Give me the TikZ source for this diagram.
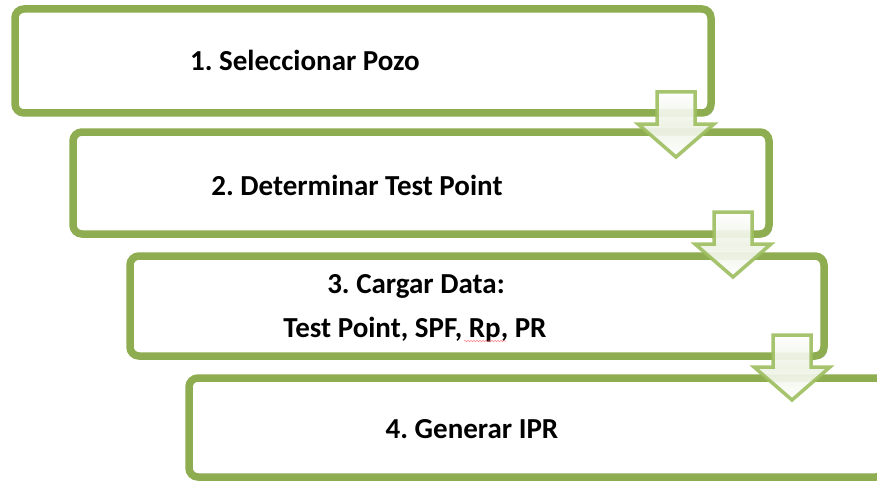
\documentclass[tikz,border=0pt]{standalone}
\usepackage{fontspec}
\setmainfont{Carlito}
\frenchspacing
\usetikzlibrary{shadows,decorations.pathmorphing}
\definecolor{boxgreen}{HTML}{8EAC50}
\definecolor{arrgreen}{HTML}{9DBE5F}
\definecolor{arrfill}{HTML}{EDF2E4}
\tikzset{
  stepbox/.style={draw=boxgreen, line width=7.5pt, fill=white, rounded corners=9pt,
    rectangle, inner sep=0pt, outer sep=0pt, anchor=north west,
    drop shadow={opacity=0.22, shadow xshift=3pt, shadow yshift=-3pt, fill=black}},
  steptext/.style={anchor=base, inner sep=0pt, font=\fontsize{29}{35}\selectfont\bfseries, text=black},
  blockarrow/.style={draw=arrgreen, draw opacity=0.9, line width=3.5pt, line join=miter,
    top color=white, bottom color=white, middle color=arrfill, fill opacity=0.92}
}
\begin{document}
\begin{tikzpicture}[x=1pt,y=-1pt]
\useasboundingbox (0,0) rectangle (877,484);
% boxes
\node[stepbox, minimum width=696pt, minimum height=104pt] (b1) at (15,9) {};
\node[stepbox, minimum width=696pt, minimum height=102pt] (b2) at (73,132) {};
\node[stepbox, minimum width=694pt, minimum height=100pt] (b3) at (130,256) {};
\node[stepbox, minimum width=696pt, minimum height=99pt] (b4) at (189,378) {};
% texts
\node[steptext] (t1) at (305,71) {1. Seleccionar Pozo};
\node[steptext] (t2) at (357,195) {2. Determinar Test Point};
\node[steptext] (t3a) at (416,293) {3. Cargar Data:};
\node[steptext] (t3b) at (415,337) {Test Point, SPF, Rp, PR};
\draw[red!80, line width=0.5pt, opacity=0.6, decorate, decoration={snake, amplitude=0.7pt, segment length=3pt}] (464,341) -- (506,341);
% arrows
\foreach \cx/\ty/\nm in {676/92/a1, 733/212/a2, 792/335/a3}{
  \path[blockarrow] (\cx-19,\ty) -- (\cx+19,\ty) -- (\cx+19,\ty+32) -- (\cx+38,\ty+32)
    -- (\cx,\ty+65) -- (\cx-38,\ty+32) -- (\cx-19,\ty+32) -- cycle;
  \coordinate (\nm) at (\cx,\ty);
}
\node[steptext] (t4) at (472,438) {4. Generar IPR};
\end{tikzpicture}
\end{document}
